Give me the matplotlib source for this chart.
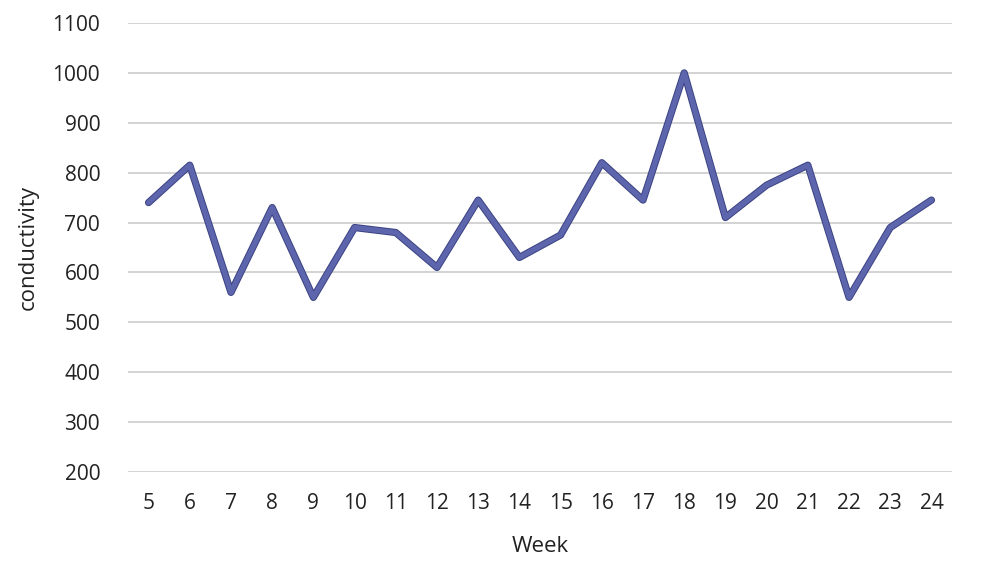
import matplotlib.pyplot as plt
import matplotlib.patheffects as pe

weeks = [5, 6, 7, 8, 9, 10, 11, 12, 13, 14, 15, 16, 17, 18, 19, 20, 21, 22, 23, 24]
conductivity = [740, 815, 560, 730, 550, 690, 680, 610, 745, 630,
                675, 820, 745, 1000, 710, 775, 815, 550, 690, 745]

plt.rcParams['font.family'] = ['Open Sans', 'DejaVu Sans']

fig = plt.figure(figsize=(9.82, 5.82), dpi=100)
ax = fig.add_axes([0.1303, 0.189, 0.8392, 0.7715])

x = list(range(len(weeks)))
ax.plot(x, conductivity, color='#5d66ad', lw=3.8, solid_joinstyle='round',
        solid_capstyle='round',
        path_effects=[pe.Stroke(linewidth=5.2, foreground='#3b4282'), pe.Normal()],
        zorder=3)

ax.set_xlim(-0.5, len(weeks) - 0.5)
ax.set_ylim(200, 1100)
ax.set_yticks(range(200, 1101, 100))
ax.set_xticks(x)
ax.set_xticklabels([str(w) for w in weeks])
ax.grid(axis='y', color='#d0d0d0', lw=1.3)
ax.set_axisbelow(True)
for s in ax.spines.values():
    s.set_visible(False)
ax.tick_params(length=0, labelsize=15, labelcolor='#222222', pad=15)
ax.tick_params(axis='y', pad=20)
ax.set_xlabel('Week', fontsize=16, color='#222222', labelpad=16)
ax.set_ylabel('conductivity', fontsize=16, color='#222222', labelpad=10)

fig.savefig('out.png', dpi=100)
